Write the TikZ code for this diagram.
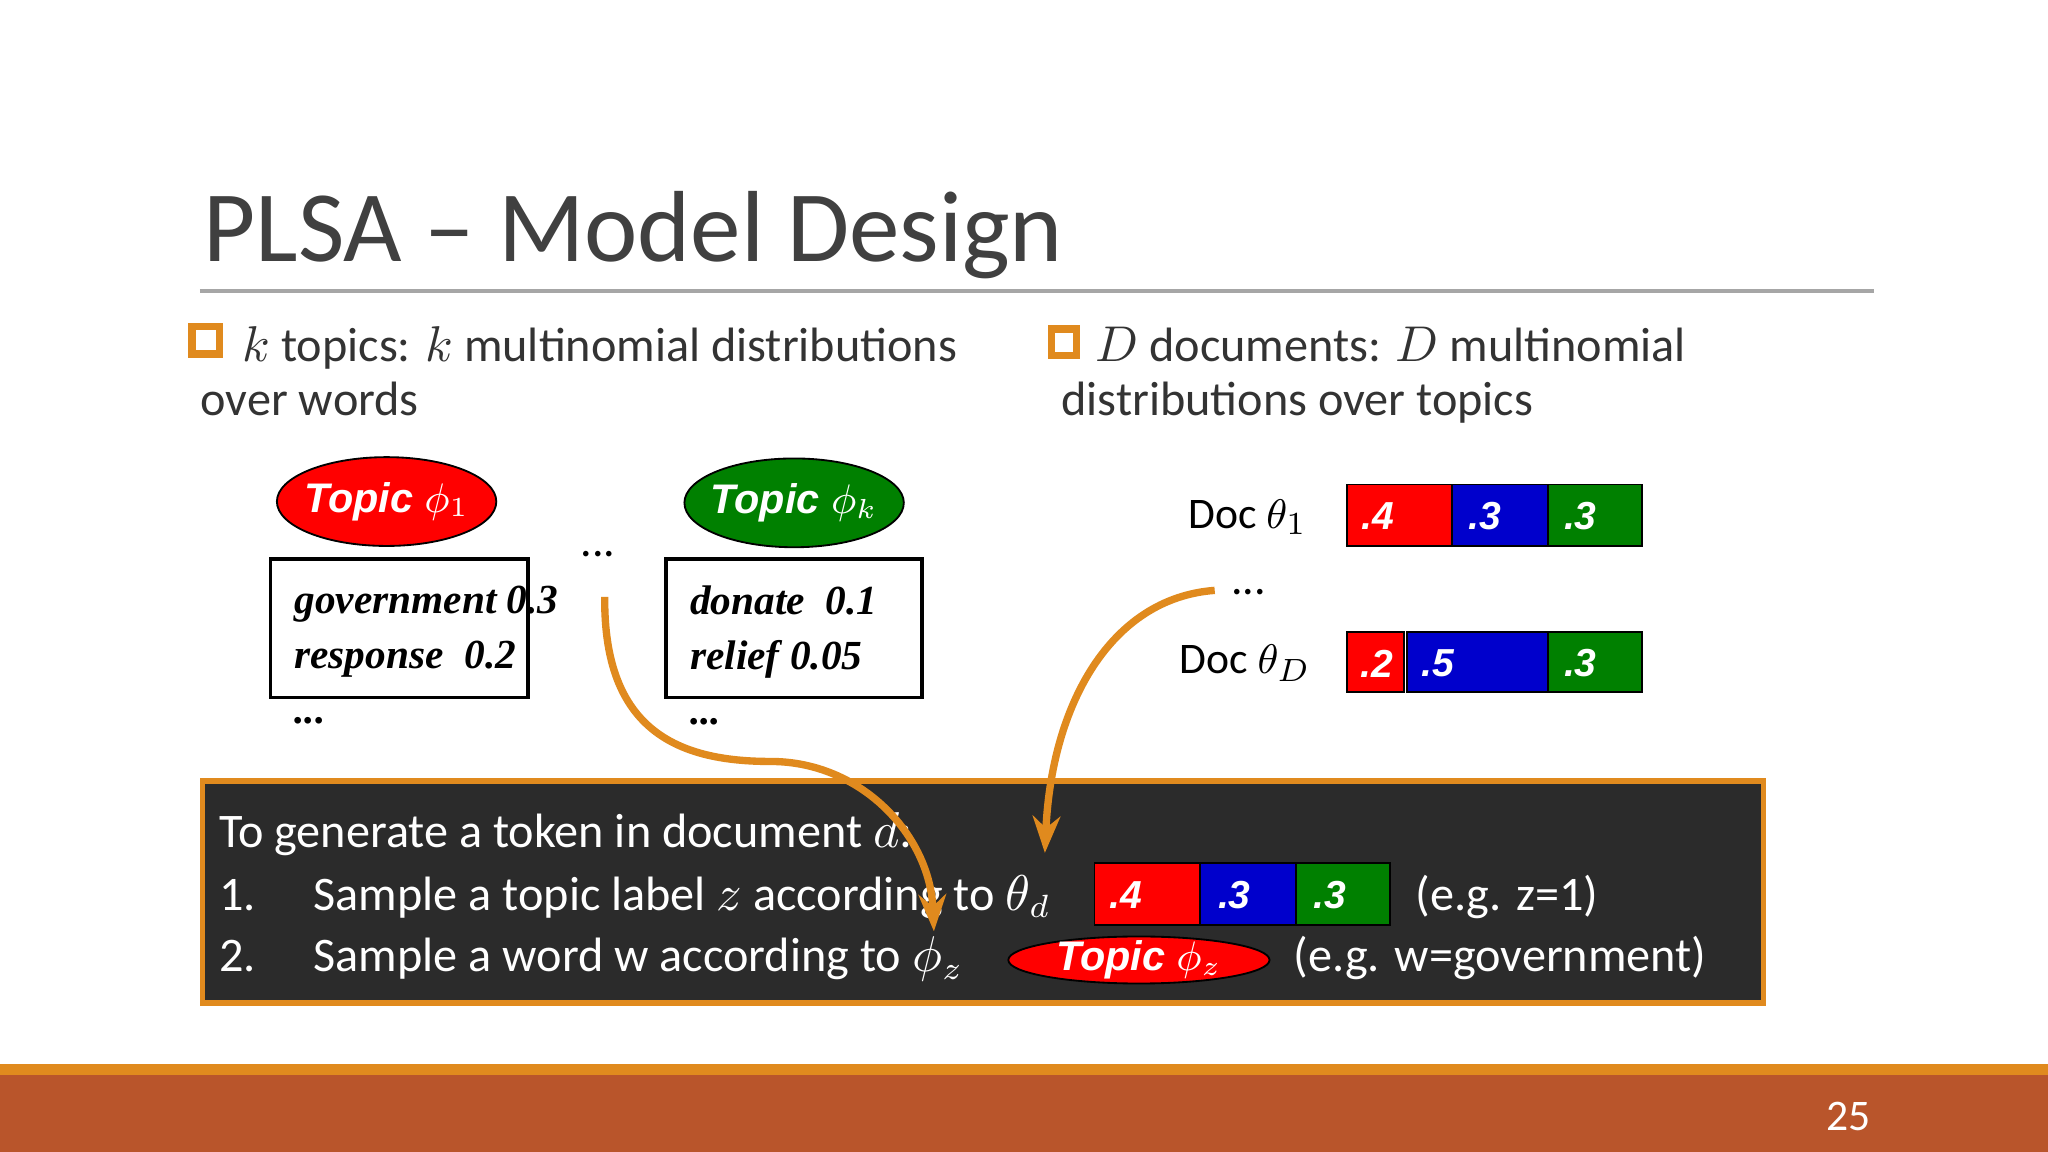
\documentclass[tikz,border=0pt]{standalone}
\usepackage{fontspec}
\setmainfont{Carlito}
\newfontfamily\serifit{Liberation Serif}
\newfontfamily\armo{Liberation Sans}
\usetikzlibrary{arrows.meta}
\definecolor{orng}{HTML}{E08A1E}
\definecolor{rust}{HTML}{B9552B}
\definecolor{dred}{HTML}{FF0000}
\definecolor{dblue}{HTML}{0000CC}
\definecolor{dgreen}{HTML}{008000}
\definecolor{dark}{HTML}{2B2B2B}
\begin{document}
\begin{tikzpicture}[x=0.01cm,y=-0.01cm,
  body/.style={font=\fontsize{10.5pt}{12pt}\selectfont,anchor=base west,inner sep=0},
  topic/.style={inner sep=0,font=\armo\bfseries\itshape\fontsize{9pt}{10pt}\selectfont,text=white},
  wbox/.style={draw=black,thick,fill=white},
  bartxt/.style={font=\armo\bfseries\itshape\fontsize{8.5pt}{10pt}\selectfont,text=white},
  arr/.style={draw=orng,line width=1.6pt,-{Stealth[length=8pt]}},
  bul/.style={draw=orng,line width=1.6pt,fill=white}]
\useasboundingbox (0,0) rectangle (1568,882);
\fill[white] (0,0) rectangle (1568,882);
% title
\node[anchor=base west,inner sep=0,text=black!75,font=\fontsize{22pt}{26pt}\selectfont] (title) at (155,200) {PLSA -- Model Design};
\draw[gray!70,line width=0.8pt] (153,223) -- (1435,223);
% bullets
\draw[bul] (147,250) rectangle (168,271);
\draw[bul] (805,252) rectangle (824,272);
\node[body,text=black!80] (b1) at (185,277) {$k$ topics: $k$ multinomial distributions};
\node[body,text=black!80] (b1b) at (153,318) {over words};
\node[body,text=black!80] (b2) at (838,277) {$D$ documents: $D$ multinomial};
\node[body,text=black!80] (b2b) at (812,318) {distributions over topics};
% topics
\fill[dred,draw=black] (296,384) ellipse (84 and 34);
\node[topic] (t1) at (296,384) {Topic $\phi_1$};
\fill[dgreen,draw=black] (608,385) ellipse (84 and 34);
\node[topic] (tk) at (608,385) {Topic $\phi_k$};
\draw[wbox] (207,428) rectangle (404,534);
\draw[wbox] (510,428) rectangle (706,534);
\node[anchor=north west,align=left,font=\serifit\bfseries\itshape\fontsize{9pt}{12pt}\selectfont] (w1) at (213,436) {government 0.3\\response~~0.2\\...};
\node[anchor=north west,align=left,font=\serifit\bfseries\itshape\fontsize{9pt}{12pt}\selectfont] (w2) at (516,436) {donate~~0.1\\relief 0.05\\...};
\node[font=\fontsize{10pt}{12pt}\selectfont] (dots1) at (458,424) {...};
% docs
\node[anchor=east,font=\fontsize{9.5pt}{12pt}\selectfont] (d1) at (1013,396) {Doc $\theta_1$};
\node[anchor=east,font=\fontsize{9.5pt}{12pt}\selectfont] (dD) at (1016,508) {Doc $\theta_D$};
\node[font=\fontsize{10pt}{12pt}\selectfont] (dots2) at (956,453) {...};
\draw[fill=dred] (1031,371) rectangle (1112,418);
\draw[fill=dblue] (1112,371) rectangle (1185,418);
\draw[fill=dgreen] (1185,371) rectangle (1257,418);
\node[bartxt] at (1055,395) {.4};
\node[bartxt] at (1137,395) {.3};
\node[bartxt] at (1210,395) {.3};
\draw[fill=dred] (1031,484) rectangle (1075,530);
\draw[fill=dblue] (1077,484) rectangle (1185,530);
\draw[fill=dgreen] (1185,484) rectangle (1257,530);
\node[bartxt] at (1054,508) {.2};
\node[bartxt] at (1101,508) {.5};
\node[bartxt] at (1210,508) {.3};
% dark box
\draw[fill=dark,draw=orng,line width=1.2pt] (155,598) rectangle (1350,768);
\node[body,text=white] (l0) at (167,649) {To generate a token in document $d$:};
\node[body,text=white] (l1) at (167,697) {1.\hspace{1.2em}Sample a topic label $z$ according to $\theta_d$};
\node[body,text=white] (l2) at (167,744) {2.\hspace{1.2em}Sample a word w according to $\phi_z$};
\draw[fill=dred] (838,661) rectangle (919,708);
\draw[fill=dblue] (919,661) rectangle (992,708);
\draw[fill=dgreen] (992,661) rectangle (1064,708);
\node[bartxt] at (862,685) {.4};
\node[bartxt] at (945,685) {.3};
\node[bartxt] at (1018,685) {.3};
\node[body,text=white] (eg1) at (1083,697) {(e.g. z=1)};
\fill[dred,draw=black] (872,735) ellipse (100 and 18);
\node[topic] (tz) at (872,735) {Topic $\phi_z$};
\node[body,text=white] (eg2) at (990,744) {(e.g. w=government)};
% arrows
\coordinate (a1s) at (463,457);
\coordinate (a1e) at (715,713);
\coordinate (a2s) at (930,452);
\coordinate (a2e) at (800,653);
\draw[arr] (a1s) .. controls (462,560) and (520,583) .. (590,583) .. controls (660,583) and (712,640) .. (a1e);
\draw[arr] (a2s) .. controls (850,458) and (805,540) .. (a2e);
% footer
\fill[orng] (0,815) rectangle (1568,823);
\fill[rust] (0,823) rectangle (1568,882);
\node[text=white,font=\fontsize{9.5pt}{12pt}\selectfont] (pg) at (1415,855) {25};
\end{tikzpicture}
\end{document}
